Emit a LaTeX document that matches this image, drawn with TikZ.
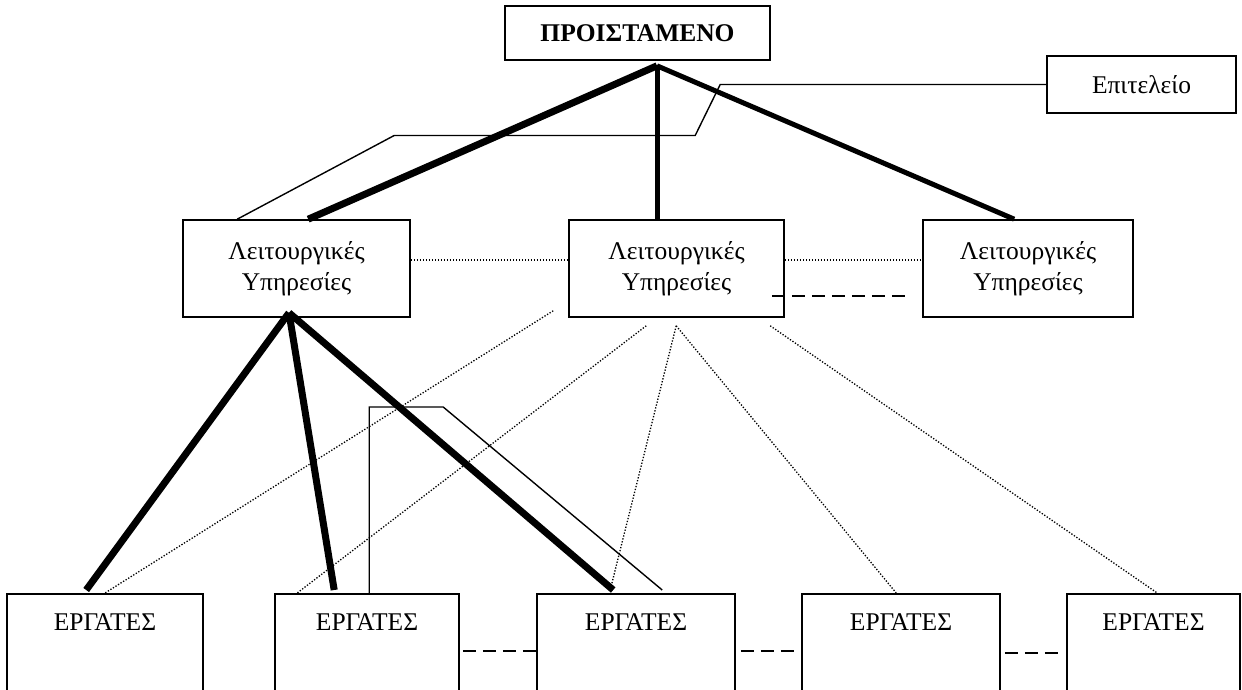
\documentclass[tikz,border=0pt]{standalone}
\usepackage{fontspec}
\setmainfont{Liberation Serif}
\begin{document}
\begin{tikzpicture}[x=1pt,y=-1pt,
  every node/.style={font=\fontsize{25.5}{31}\selectfont},
  box/.style={draw, line width=1.6pt, inner sep=0pt, align=center},
  heavy/.style={line width=7pt},
  medium/.style={line width=5pt},
  thinline/.style={line width=1.4pt},
  dotline/.style={line width=1.3pt, dash pattern=on 1.3pt off 1.7pt},
  dashline/.style={line width=2.6pt, dash pattern=on 13pt off 7pt},
  worker/.style={box, minimum height=110pt, anchor=north,
    label={[anchor=north, inner sep=0pt, yshift=-20pt]north:ΕΡΓΑΤΕΣ}}]
\useasboundingbox (0,0) rectangle (1242,690);
\clip (0,0) rectangle (1242,690);

% top of the hierarchy and the staff unit
\node[box, minimum width=265pt, minimum height=54pt] (boss) at (637.5,33) {\bfseries ΠΡΟΙΣΤΑΜΕΝΟ};
\node[box, minimum width=189pt, minimum height=57pt] (staff) at (1141.5,84.5) {Επιτελείο};

% line departments
\node[box, minimum width=227pt, minimum height=97pt] (l1) at (296.5,268.5) {Λειτουργικές\\Υπηρεσίες};
\node[box, minimum width=215pt, minimum height=97pt] (l2) at (676.5,268.5) {Λειτουργικές\\Υπηρεσίες};
\node[box, minimum width=210pt, minimum height=97pt] (l3) at (1028,268.5) {Λειτουργικές\\Υπηρεσίες};

% workers
\node[worker, minimum width=196pt] (w1) at (105,593) {};
\node[worker, minimum width=184pt] (w2) at (367,593) {};
\node[worker, minimum width=198pt] (w3) at (636,593) {};
\node[worker, minimum width=198pt] (w4) at (901,593) {};
\node[worker, minimum width=173pt] (w5) at (1153.5,593) {};

\coordinate (apex) at ([xshift=19.5pt,yshift=-5pt]boss.south);
\coordinate (hub) at ([xshift=-7.5pt,yshift=5pt]l1.south);

% line authority
\draw[heavy] (apex) -- ([xshift=126pt]l1.north west);
\draw[medium] (apex) -- (apex |- l2.north);
\draw[medium] (apex) -- ([xshift=92pt]l3.north west);
\draw[heavy] (hub) -- ([xshift=80pt,yshift=3pt]w1.north west);
\draw[heavy] (hub) -- ([xshift=60pt,yshift=3pt]w2.north west);
\draw[heavy] (hub) -- ([xshift=77pt,yshift=3pt]w3.north west);

% staff links
\draw[thinline] (staff.west) -- ++(-326,0) -- ++(-25,51) -- ++(-301,0)
  -- ([xshift=55pt]l1.north west);
\draw[thinline] ([xshift=95pt]w2.north west) -- ++(0,-186) -- ++(74,0)
  -- ([xshift=126pt,yshift=3pt]w3.north west);

% functional links
\draw[dotline] ([yshift=8.5pt]l1.east) -- ([yshift=8.5pt]l2.west);
\draw[dotline] ([yshift=8.5pt]l2.east) -- ([yshift=8.5pt]l3.west);
\draw[dotline] ([xshift=-15pt,yshift=7pt]l2.south west) -- (w1.north);
\draw[dotline] ([xshift=78pt,yshift=-8pt]l2.south west) -- ([xshift=23pt]w2.north west);
\draw[dotline] ([xshift=108pt,yshift=-8pt]l2.south west) -- ([xshift=74pt,yshift=3pt]w3.north west);
\draw[dotline] ([xshift=108pt,yshift=-8pt]l2.south west) -- ([xshift=95pt]w4.north west);
\draw[dotline] ([xshift=202pt,yshift=-8pt]l2.south west) -- ([xshift=91pt]w5.north west);

% informal contacts
\draw[dashline] ([xshift=-13pt,yshift=-27.5pt]l2.east) -- ([xshift=-11pt,yshift=-27.5pt]l3.west);
\draw[dashline] ([xshift=3pt,yshift=-2pt]w2.east) -- ([yshift=-2pt]w3.west);
\draw[dashline] ([xshift=5pt,yshift=-2pt]w3.east) -- ([xshift=-4pt,yshift=-2pt]w4.west);
\draw[dashline] ([xshift=4pt,yshift=-4pt]w4.east) -- ([xshift=-5pt,yshift=-4pt]w5.west);
\end{tikzpicture}
\end{document}
